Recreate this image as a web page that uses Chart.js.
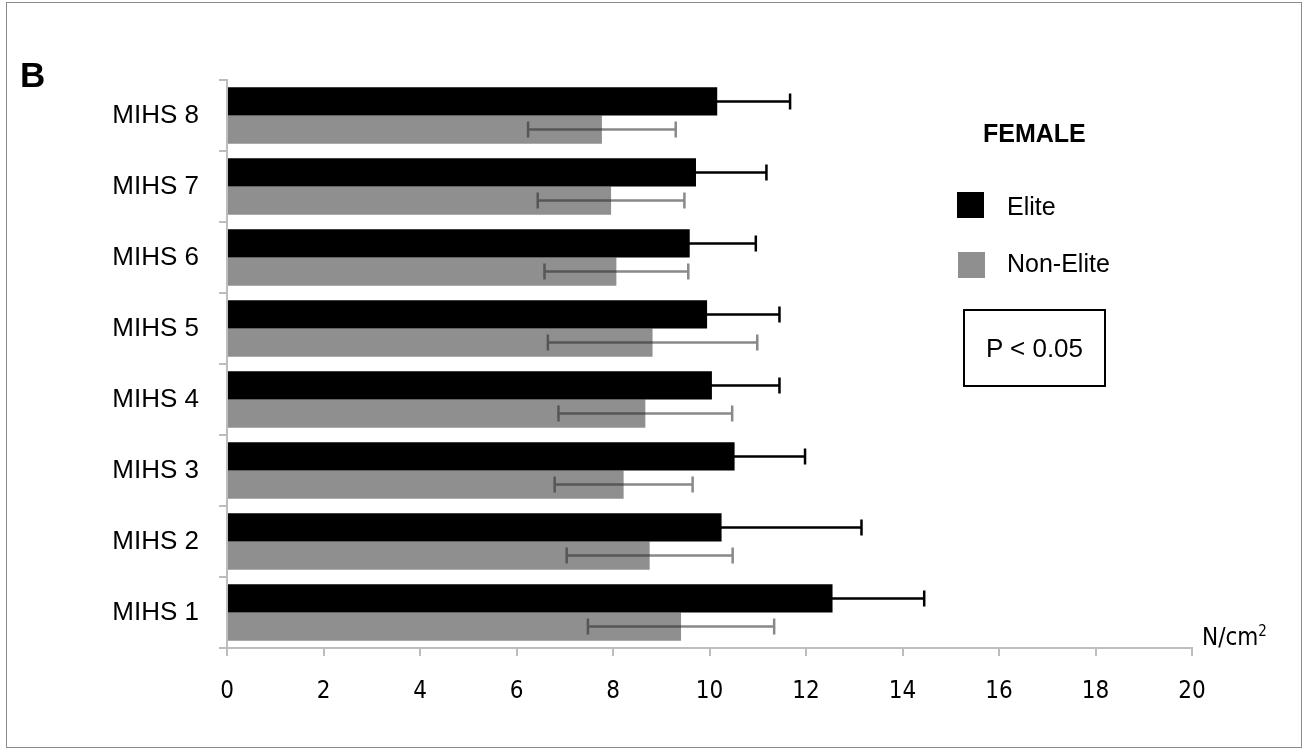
<!DOCTYPE html>
<html>
<head>
<meta charset="utf-8">
<script src="https://cdn.jsdelivr.net/npm/chart.js@4.4.1/dist/chart.umd.min.js"></script>
<style>
  html, body { margin: 0; padding: 0; background: #fff; }
  body { width: 1309px; height: 752px; position: relative; overflow: hidden; font-family: "Liberation Sans", Arial, sans-serif; }
  #frame { position: absolute; left: 6px; top: 2px; width: 1296px; height: 746px; border: 1px solid #8a8a8a; box-sizing: border-box; }
  #wrap { position: absolute; left: 0; top: 0; width: 1309px; height: 752px; }
  .txt { position: absolute; color: #000; white-space: nowrap; line-height: 1; }
  .sq { position: absolute; width: 27px; height: 26px; }
  #pbox { position: absolute; left: 963px; top: 309px; width: 143px; height: 78px; border: 2px solid #000; box-sizing: border-box;
          display: flex; align-items: center; justify-content: center; font-size: 26px; }
</style>
</head>
<body>
<div id="frame"></div>
<div id="wrap"><canvas id="chart"></canvas></div>
<div class="txt" style="left:20px; top:57px; font-size:35px; font-weight:bold;">B</div>
<div class="txt" style="left:983px; top:121px; font-size:25px; font-weight:bold;">FEMALE</div>
<div class="sq" style="left:957px; top:192px; background:#000;"></div>
<div class="txt" style="left:1007px; top:194px; font-size:25px;">Elite</div>
<div class="sq" style="left:958px; top:252px; background:#8f8f8f;"></div>
<div class="txt" style="left:1007px; top:251px; font-size:25px;">Non-Elite</div>
<div id="pbox">P &lt; 0.05</div>
<div class="txt" style="left:1202px; top:624px; font-size:24px; font-family:'DejaVu Sans Condensed', 'Liberation Sans', sans-serif;">N/cm<sup style="font-size:15px; vertical-align:9px;">2</sup></div>
<script>
document.addEventListener("DOMContentLoaded", () => {
  // Data (top to bottom)
  const categories = ["MIHS 8", "MIHS 7", "MIHS 6", "MIHS 5", "MIHS 4", "MIHS 3", "MIHS 2", "MIHS 1"];
  const eliteValues = [10.16, 9.72, 9.59, 9.95, 10.05, 10.52, 10.25, 12.55];
  const eliteErrors = [1.51, 1.46, 1.37, 1.50, 1.40, 1.46, 2.90, 1.90];
  const nonEliteValues = [7.77, 7.96, 8.07, 8.82, 8.67, 8.22, 8.76, 9.41];
  const nonEliteErrors = [1.53, 1.52, 1.49, 2.17, 1.80, 1.43, 1.72, 1.93];
  const xTicks = [0, 2, 4, 6, 8, 10, 12, 14, 16, 18, 20];

  const axisColor = "#bdbdbd";
  const tickFont = { family: "'DejaVu Sans Condensed', 'Liberation Sans', sans-serif", size: 24 };

  // Error bars drawn after the bars
  const errorBars = {
    id: "errorBars",
    afterDatasetsDraw(chart) {
      const ctx = chart.ctx;
      const xs = chart.scales.x;
      chart.data.datasets.forEach((ds, i) => {
        const meta = chart.getDatasetMeta(i);
        ctx.save();
        ctx.strokeStyle = ds.errColor;
        ctx.lineWidth = ds.errWidth;
        meta.data.forEach((bar, j) => {
          const v = ds.data[j], e = ds.errors[j];
          const x1 = xs.getPixelForValue(v - e);
          const x2 = xs.getPixelForValue(v + e);
          const y = bar.y;
          const h = 8;
          ctx.beginPath();
          ctx.moveTo(x1, y); ctx.lineTo(x2, y);
          ctx.moveTo(x1, y - h); ctx.lineTo(x1, y + h);
          ctx.moveTo(x2, y - h); ctx.lineTo(x2, y + h);
          ctx.stroke();
        });
        ctx.restore();
      });
    }
  };

  const data = {
    labels: categories,
    datasets: [{
      label: "Elite",
      data: eliteValues,
      errors: eliteErrors,
      backgroundColor: "#000000",
      errColor: "#000000",
      errWidth: 2.5,
    }, {
      label: "Non-Elite",
      data: nonEliteValues,
      errors: nonEliteErrors,
      backgroundColor: "#8f8f8f",
      errColor: "rgba(40,40,40,0.55)",
      errWidth: 2.5,
    }],
  };

  const config = {
    type: "bar",
    data: data,
    options: {
      indexAxis: "y",
      responsive: false,
      animation: false,
      categoryPercentage: 0.795,
      barPercentage: 1.0,
      layout: { padding: { left: 0, top: 80, right: 117, bottom: 0 } },
      plugins: {
        legend: { display: false },
        tooltip: { enabled: false },
      },
      scales: {
        x: {
          min: 0,
          max: 20,
          afterBuildTicks(axis) { axis.ticks = xTicks.map(v => ({ value: v })); },
          afterFit(axis) { axis.height = 104; },
          grid: { drawOnChartArea: false, drawTicks: true, tickLength: 8, color: axisColor, lineWidth: 2 },
          border: { color: axisColor, width: 2 },
          ticks: { color: "#000", font: tickFont, padding: 21, maxRotation: 0 },
        },
        y: {
          afterFit(axis) { axis.width = 227; },
          grid: { offset: true, drawOnChartArea: false, drawTicks: true, tickLength: 8, color: axisColor, lineWidth: 2 },
          border: { color: axisColor, width: 2 },
          ticks: { color: "#000", font: { family: "'Liberation Sans', Arial, sans-serif", size: 26 }, padding: 20 },
        },
      },
    },
    plugins: [errorBars],
  };

  const canvas = document.getElementById("chart");
  canvas.width = 1309;
  canvas.height = 752;
  canvas.style.width = "1309px";
  canvas.style.height = "752px";
  new Chart(canvas.getContext("2d"), config);
});
</script>
</body>
</html>
